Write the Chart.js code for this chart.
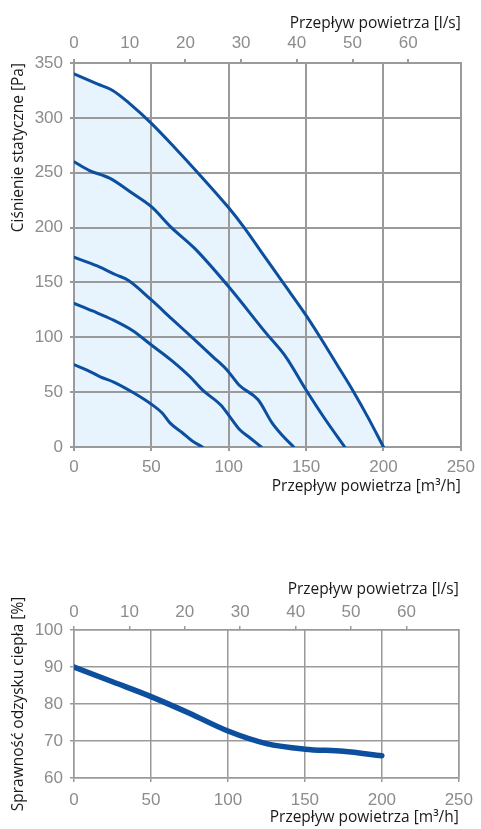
<!DOCTYPE html>
<html><head><meta charset="utf-8">
<script src="https://cdn.jsdelivr.net/npm/chart.js@4.4.1/dist/chart.umd.min.js"></script>
<style>
html,body{margin:0;padding:0;background:#fff;width:481px;height:829px;overflow:hidden;}
#w1{position:absolute;left:0;top:0;width:481px;height:500px;}
#w2{position:absolute;left:0;top:560px;width:481px;height:269px;}
</style></head><body>
<div id="w1"><canvas id="c1"></canvas></div>
<div id="w2"><canvas id="c2"></canvas></div>
<script>
// ---- data ----
const flowTicksM3h = [0, 50, 100, 150, 200, 250];
const flowTicksLs = [0, 10, 20, 30, 40, 50, 60];
const pressureTicks = [0, 50, 100, 150, 200, 250, 300, 350];
const efficiencyTicks = [60, 70, 80, 90, 100];

const curve1Flow = [0, 15, 25, 36, 50, 65, 80, 100, 110, 120, 135, 150, 160, 170, 180, 190, 200];
const curve1Pa   = [340, 331, 325, 313, 295, 273, 250, 218, 200, 180, 150, 120, 98, 75, 52, 27, 0];
const curve2Flow = [0, 10, 23, 38, 50, 63, 78, 100, 124, 137, 150, 162, 175];
const curve2Pa   = [260, 252, 245, 231, 219, 200, 181, 146, 104, 82, 52, 26, 0];
const curve3Flow = [0, 15, 27, 35, 50, 63, 77, 90, 99, 107, 119, 128, 135, 142];
const curve3Pa   = [173, 165, 157, 152, 134, 117, 99, 82, 70, 56, 43, 22, 10, 0];
const curve4Flow = [0, 12, 25, 38, 50, 63, 75, 83, 95, 101, 107, 114, 121];
const curve4Pa   = [131, 124, 116, 106, 93, 79, 64, 52, 38, 27, 16, 8, 0];
const curve5Flow = [0, 10, 17, 26, 39, 50, 57, 62, 70, 76, 83];
const curve5Pa   = [75, 69, 64, 59, 49, 39, 31, 22, 13, 6, 0];

const effFlow = [0, 25, 50, 75, 100, 125, 150, 175, 200];
const effPct  = [90, 86, 82, 77.5, 72.7, 69.3, 67.8, 67.2, 66];

const M3H_PER_LS = 3.6;

// ---- helpers ----
const BLUE = '#0b4f9e';
const GRID = '#9a9a9a';
const TICKC = '#8c8c8c';
const TITLEC = '#1a1a1a';
const tickFont = {family: '"Liberation Sans", Arial, sans-serif', size: 17};
const titleFont = {family: '"Open Sans", "Noto Sans", sans-serif', size: 15.5};

function pts(xs, ys){ return xs.map((x,i)=>({x:x, y:ys[i]})); }
function ticksFrom(arr){ return function(scale){ scale.ticks = arr.map(v=>({value:v})); }; }

Chart.defaults.animation = false;
Chart.defaults.devicePixelRatio = 1;

function lineDs(xs, ys, w, fill){
  return {data: pts(xs, ys), borderColor: BLUE, borderWidth: w, pointRadius: 0,
    cubicInterpolationMode: 'monotone', fill: fill ? 'origin' : false, backgroundColor: '#e8f4fd',
    borderCapStyle: 'round', borderJoinStyle: 'round'};
}

function makeChart(id, datasets, yTicks, yMin, yMax, yTitle, yAlign, geo){
  return new Chart(document.getElementById(id), {
    type: 'line',
    data: {datasets: datasets},
    options: {
      responsive: true, maintainAspectRatio: false,
      layout: {padding: {left: 0, right: geo.right, top: 0, bottom: 0}},
      plugins: {legend: {display: false}, tooltip: {enabled: false}, filler: {drawTime: 'beforeDraw'}},
      scales: {
        x: {type: 'linear', position: 'bottom', min: 0, max: 250,
          afterBuildTicks: ticksFrom(flowTicksM3h),
          afterFit: s => { s.height = geo.bottomH; },
          grid: {color: GRID, lineWidth: geo.gw, tickLength: 4, drawTicks: true},
          border: {color: GRID, width: geo.gw},
          ticks: {font: tickFont, color: TICKC, padding: geo.xPad, maxRotation: 0},
          title: {display: true, text: 'Przepływ powietrza [m³/h]', align: 'end', color: TITLEC,
            font: titleFont, padding: {top: 0, bottom: geo.xtPad}}
        },
        x2: {type: 'linear', position: 'top', min: 0, max: 250 / M3H_PER_LS,
          afterBuildTicks: ticksFrom(flowTicksLs),
          afterFit: s => { s.height = geo.topH; },
          grid: {color: GRID, lineWidth: geo.gw, tickLength: 4, drawOnChartArea: false},
          border: {color: GRID, width: geo.gw},
          ticks: {font: tickFont, color: TICKC, padding: geo.x2Pad, maxRotation: 0},
          title: {display: true, text: 'Przepływ powietrza [l/s]', align: 'end', color: TITLEC,
            font: titleFont, padding: {top: geo.x2tPad, bottom: 0}}
        },
        y: {type: 'linear', position: 'left', min: yMin, max: yMax,
          afterBuildTicks: ticksFrom(yTicks),
          afterFit: s => { s.width = 74; },
          grid: {color: GRID, lineWidth: geo.gw, tickLength: 4},
          border: {color: GRID, width: geo.gw},
          ticks: {font: tickFont, color: TICKC, padding: 7},
          title: {display: true, text: yTitle, align: yAlign, color: TITLEC,
            font: titleFont, padding: {top: 9, bottom: 0}}
        },
        y2: {type: 'linear', position: 'right', min: yMin, max: yMax, display: true,
          afterFit: s => { s.width = 0; },
          grid: {display: false, drawTicks: false}, border: {color: GRID, width: geo.gw},
          ticks: {display: false}
        }
      }
    }
  });
}

makeChart('c1', [
  lineDs(curve1Flow, curve1Pa, 3, true),
  lineDs(curve2Flow, curve2Pa, 3, false),
  lineDs(curve3Flow, curve3Pa, 3, false),
  lineDs(curve4Flow, curve4Pa, 3, false),
  lineDs(curve5Flow, curve5Pa, 3, false)
], pressureTicks, 0, 350, 'Ciśnienie statyczne [Pa]', 'end',
  {right: 19, bottomH: 53, topH: 63, gw: 2, xPad: 6, xtPad: 4, x2Pad: 5, x2tPad: 14});

makeChart('c2', [
  lineDs(effFlow, effPct, 5.5, false)
], efficiencyTicks, 60, 100, 'Sprawność odzysku ciepła [%]', 'center',
  {right: 18, bottomH: 51, topH: 70, gw: 1.5, xPad: 8, xtPad: 2, x2Pad: 3, x2tPad: 20});
</script>
</body></html>
